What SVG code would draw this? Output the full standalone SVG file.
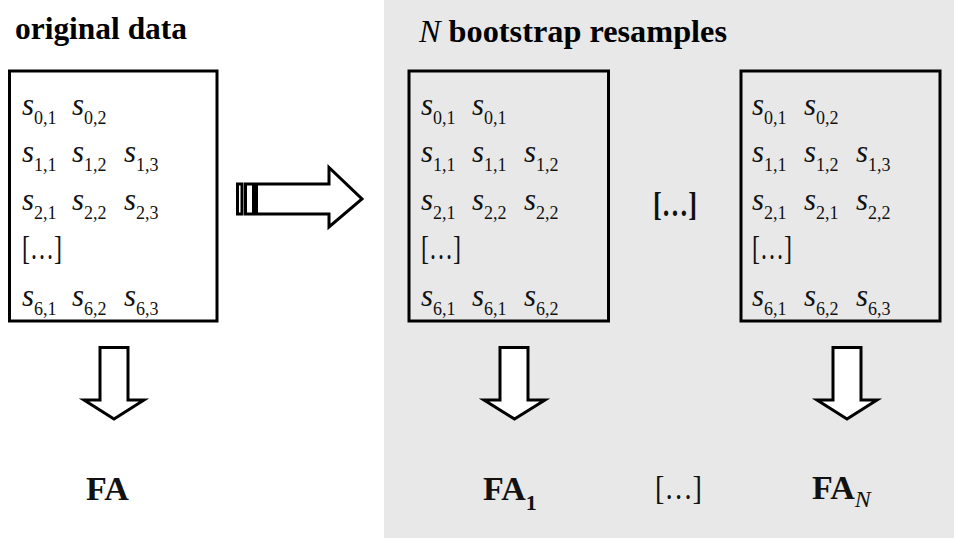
<svg xmlns="http://www.w3.org/2000/svg" width="954" height="538" viewBox="0 0 954 538">
  <style>
    .title { font-family: "Liberation Serif", "Times New Roman", serif; font-weight: bold; font-size: 32px; fill: #000; }
    .s { font-family: "Liberation Serif", "Times New Roman", serif; font-style: italic; font-size: 31px; fill: #111; }
    .sub { font-family: "Liberation Serif", "Times New Roman", serif; font-style: normal; font-size: 18px; }
    .dots { font-family: "Liberation Serif", "Times New Roman", serif; font-size: 34px; fill: #111; }
    .fa { font-family: "Liberation Serif", "Times New Roman", serif; font-weight: bold; font-size: 34px; fill: #111; }
    .box { fill: none; stroke: #000; stroke-width: 3; }
    .arrow { fill: #fff; stroke: #000; stroke-width: 3; stroke-linejoin: miter; }
  </style>

  <!-- background: white for the original, grey panel for the resamples -->
  <rect x="0" y="0" width="954" height="538" fill="#fff"/>
  <rect id="resample-panel" x="384" y="0" width="570" height="538" fill="#e8e8e8"/>

  <text class="title" x="15" y="39" textLength="172" lengthAdjust="spacingAndGlyphs">original data</text>
  <text class="title" x="419" y="42" textLength="308" lengthAdjust="spacingAndGlyphs"><tspan font-style="italic" font-weight="normal">N</tspan> bootstrap resamples</text>

  <!-- original data -->
  <g id="original">
    <rect class="box" x="9.5" y="71" width="207.5" height="250" fill="#fff"/>
    <text class="s" x="22" y="115">s<tspan class="sub" dy="9">0,1</tspan></text>
    <text class="s" x="72" y="115">s<tspan class="sub" dy="9">0,2</tspan></text>
    <text class="s" x="22" y="162">s<tspan class="sub" dy="9">1,1</tspan></text>
    <text class="s" x="72" y="162">s<tspan class="sub" dy="9">1,2</tspan></text>
    <text class="s" x="124" y="162">s<tspan class="sub" dy="9">1,3</tspan></text>
    <text class="s" x="22" y="210">s<tspan class="sub" dy="9">2,1</tspan></text>
    <text class="s" x="72" y="210">s<tspan class="sub" dy="9">2,2</tspan></text>
    <text class="s" x="124" y="210">s<tspan class="sub" dy="9">2,3</tspan></text>
    <text class="dots" x="22" y="259" textLength="40" lengthAdjust="spacingAndGlyphs">[…]</text>
    <text class="s" x="22" y="306">s<tspan class="sub" dy="9">6,1</tspan></text>
    <text class="s" x="72" y="306">s<tspan class="sub" dy="9">6,2</tspan></text>
    <text class="s" x="124" y="306">s<tspan class="sub" dy="9">6,3</tspan></text>
  </g>

  <!-- first resample -->
  <g id="resample-1">
    <rect class="box" x="409" y="71" width="199.5" height="250"/>
    <text class="s" x="421" y="115">s<tspan class="sub" dy="9">0,1</tspan></text>
    <text class="s" x="472" y="115">s<tspan class="sub" dy="9">0,1</tspan></text>
    <text class="s" x="421" y="162">s<tspan class="sub" dy="9">1,1</tspan></text>
    <text class="s" x="472" y="162">s<tspan class="sub" dy="9">1,1</tspan></text>
    <text class="s" x="524" y="162">s<tspan class="sub" dy="9">1,2</tspan></text>
    <text class="s" x="421" y="210">s<tspan class="sub" dy="9">2,1</tspan></text>
    <text class="s" x="472" y="210">s<tspan class="sub" dy="9">2,2</tspan></text>
    <text class="s" x="524" y="210">s<tspan class="sub" dy="9">2,2</tspan></text>
    <text class="dots" x="421" y="259" textLength="40" lengthAdjust="spacingAndGlyphs">[…]</text>
    <text class="s" x="421" y="306">s<tspan class="sub" dy="9">6,1</tspan></text>
    <text class="s" x="472" y="306">s<tspan class="sub" dy="9">6,1</tspan></text>
    <text class="s" x="524" y="306">s<tspan class="sub" dy="9">6,2</tspan></text>
  </g>

  <text id="ellipsis-mid" class="dots" x="653" y="216" font-weight="bold" textLength="44" lengthAdjust="spacingAndGlyphs">[…]</text>

  <!-- N-th resample -->
  <g id="resample-n">
    <rect class="box" x="741" y="71" width="199" height="250"/>
    <text class="s" x="752" y="115">s<tspan class="sub" dy="9">0,1</tspan></text>
    <text class="s" x="804" y="115">s<tspan class="sub" dy="9">0,2</tspan></text>
    <text class="s" x="752" y="162">s<tspan class="sub" dy="9">1,1</tspan></text>
    <text class="s" x="804" y="162">s<tspan class="sub" dy="9">1,2</tspan></text>
    <text class="s" x="856" y="162">s<tspan class="sub" dy="9">1,3</tspan></text>
    <text class="s" x="752" y="210">s<tspan class="sub" dy="9">2,1</tspan></text>
    <text class="s" x="804" y="210">s<tspan class="sub" dy="9">2,1</tspan></text>
    <text class="s" x="856" y="210">s<tspan class="sub" dy="9">2,2</tspan></text>
    <text class="dots" x="752" y="259" textLength="40" lengthAdjust="spacingAndGlyphs">[…]</text>
    <text class="s" x="752" y="306">s<tspan class="sub" dy="9">6,1</tspan></text>
    <text class="s" x="804" y="306">s<tspan class="sub" dy="9">6,2</tspan></text>
    <text class="s" x="856" y="306">s<tspan class="sub" dy="9">6,3</tspan></text>
  </g>

  <!-- results -->
  <g id="fa">
    <text class="fa" x="86" y="500">FA</text>
  </g>
  <g id="fa-1">
    <text class="fa" x="483" y="500">FA<tspan font-size="22" dy="10">1</tspan></text>
  </g>
  <text id="ellipsis-bottom" class="dots" x="655" y="499" font-size="28" textLength="47" lengthAdjust="spacingAndGlyphs">[…]</text>
  <g id="fa-n">
    <text class="fa" x="812" y="499">FA<tspan font-size="24" font-style="italic" font-weight="normal" dy="8">N</tspan></text>
  </g>

  <!-- connectors: block arrows -->
  <g id="connectors">
    <!-- striped arrow: original data to resamples -->
    <rect class="arrow" x="237.5" y="184" width="4.5" height="30"/>
    <rect class="arrow" x="245.5" y="184" width="8" height="30"/>
    <path class="arrow" d="M256.5,184 H329 V167.5 L362,199 L329,227 V214 H256.5 Z"/>
    <!-- down arrows to the factor analyses -->
    <path class="arrow" d="M100,347.5 H128 V400 H144 L114,419 L84,400 H100 Z"/>
    <path class="arrow" d="M500,347.5 H528 V400 H545 L514.5,419 L484,400 H500 Z"/>
    <path class="arrow" d="M833,347.5 H861 V400 H877 L847,419 L817,400 H833 Z"/>
  </g>
</svg>
